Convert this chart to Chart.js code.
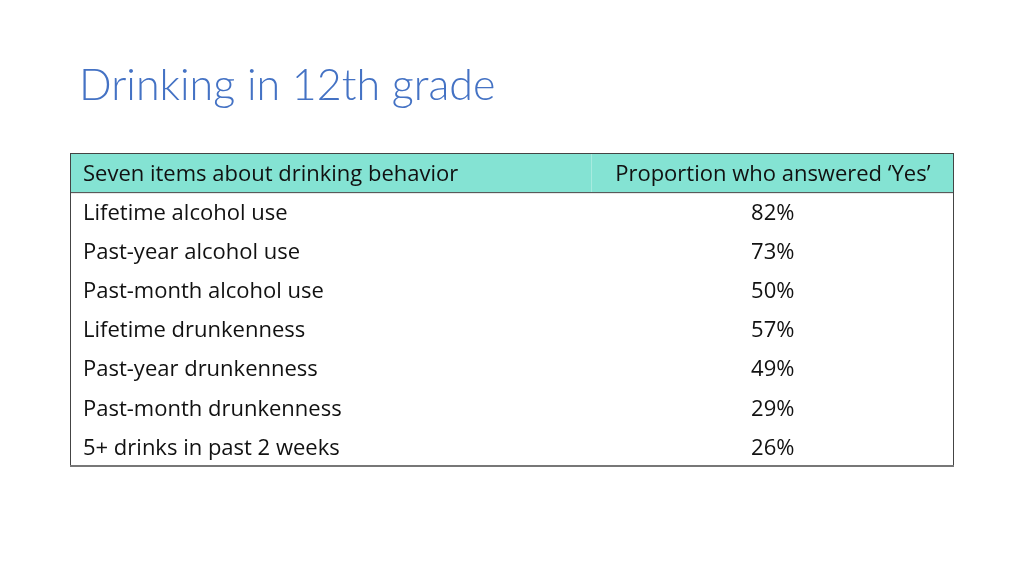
<!DOCTYPE html>
<html>
<head>
<meta charset="utf-8">
<script src="https://cdn.jsdelivr.net/npm/chart.js@4"></script>
<style>
  html, body { margin: 0; padding: 0; background: #fff; }
  #wrap { width: 1024px; height: 576px; }
</style>
</head>
<body>
<div id="wrap"><canvas id="tbl" width="1024" height="576"></canvas></div>
<script>
// table content
var titleText = 'Drinking in 12th grade';
var headers = ['Seven items about drinking behavior', 'Proportion who answered \u2018Yes\u2019'];
var items = [
    'Lifetime alcohol use',
    'Past-year alcohol use',
    'Past-month alcohol use',
    'Lifetime drunkenness',
    'Past-year drunkenness',
    'Past-month drunkenness',
    '5+ drinks in past 2 weeks'
];
var yesPct = [82, 73, 50, 57, 49, 29, 26];

var rowKeys = ['header'].concat(items);

// draws the table cells using the y (category) scale for row bands
var tablePlugin = {
    id: 'tableDraw',
    afterDraw: function (chart) {
        var c = chart.ctx;
        var area = chart.chartArea;
        var y = chart.scales.y;
        var band = y.getPixelForValue(1) - y.getPixelForValue(0);
        var left = area.left, right = area.right;
        var colSplit = left + (right - left) * 0.59;
        var col2Mid = (colSplit + right) / 2;

        c.save();
        // title
        c.fillStyle = '#4472C4';
        c.font = '300 43px Lato';
        c.textBaseline = 'alphabetic';
        c.textAlign = 'left';
        c.fillText(titleText, left + 9, 100);

        // header row
        var hTop = y.getPixelForValue(0) - band / 2;
        c.fillStyle = '#84E3D3';
        c.fillRect(left, hTop, right - left, band);
        c.strokeStyle = 'rgba(255,255,255,0.3)';
        c.lineWidth = 1;
        c.beginPath();
        c.moveTo(colSplit, hTop);
        c.lineTo(colSplit, hTop + band);
        c.stroke();

        c.font = '22px "Open Sans"';
        c.textBaseline = 'middle';
        c.fillStyle = '#111';
        var yh = y.getPixelForValue(0) + 2;
        c.textAlign = 'left';
        c.fillText(headers[0], left + 13, yh);
        c.textAlign = 'center';
        c.fillText(headers[1], col2Mid, yh);

        // body rows
        for (var i = 0; i < items.length; i++) {
            var py = y.getPixelForValue(i + 1) + 2;
            c.textAlign = 'left';
            c.fillText(items[i], left + 13, py);
            c.textAlign = 'center';
            c.fillText(yesPct[i] + '%', col2Mid, py);
        }

        // borders
        c.strokeStyle = '#444';
        c.lineWidth = 1;
        c.strokeRect(left + 0.5, hTop + 0.5, right - left - 1, area.bottom - hTop - 1);
        c.beginPath();
        c.moveTo(left, hTop + band + 0.5);
        c.lineTo(right, hTop + band + 0.5);
        c.stroke();
        c.strokeStyle = '#777';
        c.lineWidth = 2;
        c.beginPath();
        c.moveTo(left, area.bottom);
        c.lineTo(right, area.bottom);
        c.stroke();
        c.restore();
    }
};

new Chart(document.getElementById('tbl'), {
    type: 'bar',
    data: {
        labels: rowKeys,
        datasets: [{
            label: headers[1],
            data: [null].concat(yesPct),
            backgroundColor: 'rgba(0,0,0,0)',
            borderWidth: 0
        }]
    },
    options: {
        indexAxis: 'y',
        responsive: false,
        animation: false,
        layout: { padding: { left: 70, right: 70, top: 153, bottom: 110 } },
        scales: {
            x: { display: false, min: 0, max: 100 },
            y: { display: false, offset: true }
        },
        plugins: {
            legend: { display: false },
            tooltip: { enabled: false },
            title: { display: false }
        }
    },
    plugins: [tablePlugin]
});
</script>
</body>
</html>
